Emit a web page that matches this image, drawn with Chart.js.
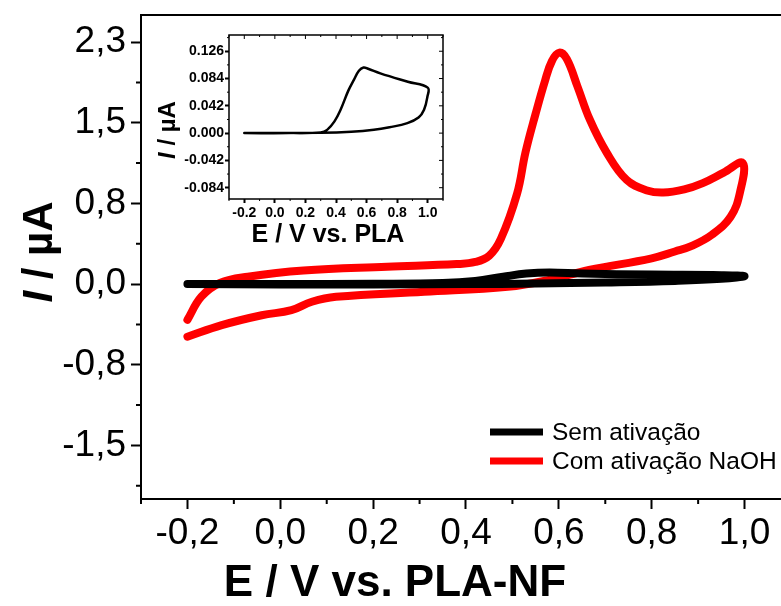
<!DOCTYPE html>
<html>
<head>
<meta charset="utf-8">
<script src="https://cdn.jsdelivr.net/npm/chart.js@4.4.1/dist/chart.umd.min.js"></script>
<style>
  html, body { margin: 0; padding: 0; background: #fff; overflow: hidden; }
  #wrap { position: relative; width: 781px; height: 606px; overflow: hidden; }
  #main { position: absolute; left: 0; top: 0; }
  #inset { position: absolute; left: 150px; top: 20px; }
</style>
</head>
<body>
<div id="wrap">
  <canvas id="main" width="800" height="606"></canvas>
  <canvas id="inset" width="310" height="240"></canvas>
</div>
<script>
// Curva com ativação NaOH (ida e volta)
const redX = [-0.20, -0.17, -0.13, -0.07, 0.05, 0.23, 0.38, 0.42, 0.45, 0.475, 0.51, 0.528, 0.55, 0.57, 0.585, 0.601, 0.617, 0.64, 0.667, 0.703, 0.746, 0.79, 0.825, 0.87, 0.91, 0.955, 0.996,
              0.99, 0.97, 0.93, 0.885, 0.85, 0.80, 0.665, 0.577, 0.49, 0.31, 0.12, 0.068, 0.024, -0.04, -0.126, -0.20];
const redY = [-0.34, -0.12, 0.01, 0.07, 0.13, 0.165, 0.19, 0.21, 0.27, 0.43, 0.86, 1.25, 1.62, 1.93, 2.12, 2.20, 2.14, 1.88, 1.56, 1.25, 0.99, 0.89, 0.87, 0.90, 0.96, 1.06, 1.15,
              0.87, 0.64, 0.47, 0.36, 0.31, 0.245, 0.134, 0.038, -0.025, -0.073, -0.121, -0.168, -0.248, -0.296, -0.39, -0.50];

// Curva sem ativação
const blackX = [-0.20, 0.00, 0.20, 0.35, 0.42, 0.48, 0.53, 0.58, 0.65, 0.80, 0.95, 1.00,
                0.95, 0.85, 0.70, 0.55, 0.40, 0.20, 0.00, -0.20];
const blackY = [0.000, 0.000, 0.003, 0.010, 0.030, 0.070, 0.100, 0.110, 0.100, 0.090, 0.085, 0.075,
                0.050, 0.030, 0.015, 0.005, 0.000, -0.004, -0.004, 0.000];

// Inset (sem ativação, escala ampliada)
const insetX = [-0.20, 0.10, 0.30, 0.342, 0.39, 0.43, 0.48, 0.517, 0.55, 0.58, 0.61, 0.69, 0.87, 1.00,
                0.998, 0.976, 0.94, 0.867, 0.75, 0.648, 0.50, 0.30, -0.20];
const insetY = [0.000, 0.000, 0.001, 0.005, 0.018, 0.036, 0.065, 0.082, 0.096, 0.101, 0.099, 0.092, 0.079, 0.070,
                0.056, 0.036, 0.024, 0.0154, 0.009, 0.005, 0.002, 0.0005, 0.000];

const seriesLabels = ["Sem ativação", "Com ativação NaOH"];

const xTickValues = [-0.2, 0.0, 0.2, 0.4, 0.6, 0.8, 1.0];
const xTickLabels = ["-0,2", "0,0", "0,2", "0,4", "0,6", "0,8", "1,0"];
const xMinorValues = [-0.3, -0.1, 0.1, 0.3, 0.5, 0.7, 0.9, 1.1];
const yTickValues = [-1.5333, -0.7667, 0, 0.7667, 1.5333, 2.3];
const yTickLabels = ["-1,5", "-0,8", "0,0", "0,8", "1,5", "2,3"];
const yMinorValues = [-1.9167, -1.15, -0.3833, 0.3833, 1.15, 1.9167];

const insetXTicks = [-0.2, 0.0, 0.2, 0.4, 0.6, 0.8, 1.0];
const insetXLabels = ["-0.2", "0.0", "0.2", "0.4", "0.6", "0.8", "1.0"];
const insetXMinor = [-0.3, -0.1, 0.1, 0.3, 0.5, 0.7, 0.9, 1.1];
const insetYTicks = [-0.084, -0.042, 0.0, 0.042, 0.084, 0.126];
const insetYLabels = ["-0.084", "-0.042", "0.000", "0.042", "0.084", "0.126"];
const insetYMinor = [-0.063, -0.021, 0.021, 0.063, 0.105, 0.147];

const FONT = "'Liberation Sans', Arial, sans-serif";

function pairs(xs, ys) {
  return xs.map((x, i) => ({ x: x, y: ys[i] }));
}

// moldura, ticks menores, títulos e legenda
function framePlugin(cfg) {
  return {
    id: "frame",
    afterDraw(chart) {
      const ctx = chart.ctx;
      const a = chart.chartArea;
      const xs = chart.scales.x, ys = chart.scales.y;
      ctx.save();
      ctx.strokeStyle = "#000";
      ctx.lineWidth = cfg.frameWidth;
      ctx.strokeRect(a.left, a.top, a.right - a.left, a.bottom - a.top);

      ctx.lineWidth = cfg.tickWidth;
      ctx.beginPath();
      cfg.xMinor.forEach(v => {
        const px = xs.getPixelForValue(v);
        ctx.moveTo(px, a.bottom); ctx.lineTo(px, a.bottom + cfg.minorLen);
        if (cfg.mirror) { ctx.moveTo(px, a.top); ctx.lineTo(px, a.top + cfg.minorLen); }
      });
      cfg.yMinor.forEach(v => {
        const py = ys.getPixelForValue(v);
        ctx.moveTo(a.left, py); ctx.lineTo(a.left - cfg.minorLen, py);
        if (cfg.mirror) { ctx.moveTo(a.right, py); ctx.lineTo(a.right - cfg.minorLen, py); }
      });
      if (cfg.mirror) {
        cfg.xMajor.forEach(v => {
          const px = xs.getPixelForValue(v);
          ctx.moveTo(px, a.top); ctx.lineTo(px, a.top + cfg.majorLen);
        });
        cfg.yMajor.forEach(v => {
          const py = ys.getPixelForValue(v);
          ctx.moveTo(a.right, py); ctx.lineTo(a.right - cfg.majorLen, py);
        });
      }
      ctx.stroke();

      // título do eixo x
      ctx.fillStyle = "#000";
      ctx.font = "bold " + cfg.xTitleSize + "px " + FONT;
      ctx.textAlign = "center";
      ctx.textBaseline = "middle";
      ctx.fillText(cfg.xTitle, cfg.xTitlePos[0], cfg.xTitlePos[1]);

      // título do eixo y: "I" itálico + " / µA"
      ctx.translate(cfg.yTitlePos[0], cfg.yTitlePos[1]);
      ctx.rotate(-Math.PI / 2);
      const f1 = "italic bold " + cfg.yTitleSize + "px " + FONT;
      const f2 = "bold " + cfg.yTitleSize + "px " + FONT;
      ctx.font = f1; const w1 = ctx.measureText("I").width;
      ctx.font = f2; const w2 = ctx.measureText(" / µA").width;
      ctx.textAlign = "left";
      ctx.font = f1; ctx.fillText("I", -(w1 + w2) / 2, 0);
      ctx.font = f2; ctx.fillText(" / µA", -(w1 + w2) / 2 + w1, 0);
      ctx.restore();

      if (cfg.legend) {
        ctx.save();
        ctx.font = cfg.legend.size + "px " + FONT;
        ctx.textBaseline = "middle";
        ctx.textAlign = "left";
        chart.data.datasets.forEach((ds, i) => {
          const y = cfg.legend.y + i * cfg.legend.gap;
          ctx.strokeStyle = ds.borderColor;
          ctx.lineWidth = 7;
          ctx.beginPath();
          ctx.moveTo(cfg.legend.x, y);
          ctx.lineTo(cfg.legend.x + 53, y);
          ctx.stroke();
          ctx.fillStyle = "#000";
          ctx.fillText(ds.label, cfg.legend.x + 62, y + 1);
        });
        ctx.restore();
      }
    }
  };
}

function axis(min, max, ticksV, labels, fit, font, tickLen, pad) {
  return {
    type: "linear",
    min: min,
    max: max,
    afterBuildTicks: s => { s.ticks = ticksV.map(v => ({ value: v })); },
    afterFit: s => {
      fit(s);
      s.paddingTop = 0; s.paddingBottom = 0; s.paddingLeft = 0; s.paddingRight = 0;
    },
    border: { display: false },
    grid: { drawOnChartArea: false, drawTicks: true, tickLength: tickLen, tickWidth: 2, tickColor: "#000" },
    ticks: {
      color: "#000",
      font: font,
      padding: pad,
      maxRotation: 0,
      autoSkip: false,
      callback: (v, i) => labels[i]
    }
  };
}

new Chart(document.getElementById("main"), {
  type: "scatter",
  data: {
    datasets: [
      { label: seriesLabels[0], data: pairs(blackX, blackY), borderColor: "#000000", borderWidth: 8 },
      { label: seriesLabels[1], data: pairs(redX, redY), borderColor: "#ff0000", borderWidth: 8 }
    ]
  },
  options: {
    responsive: false,
    animation: false,
    showLine: true,
    layout: { padding: { top: 15, right: 9, left: 0, bottom: 0 } },
    elements: {
      point: { radius: 0 },
      line: { tension: 0.4, borderCapStyle: "round", borderJoinStyle: "round" }
    },
    plugins: { legend: { display: false }, tooltip: { enabled: false } },
    scales: {
      x: axis(-0.3, 1.1, xTickValues, xTickLabels, s => { s.height = 107; }, { family: FONT, size: 37 }, 10, 3),
      y: axis(-2.043, 2.558, yTickValues, yTickLabels, s => { s.width = 141; }, { family: FONT, size: 37 }, 10, 5)
    }
  },
  plugins: [framePlugin({
    frameWidth: 2, tickWidth: 2, minorLen: 5, majorLen: 10, mirror: false,
    xMinor: xMinorValues, yMinor: yMinorValues, xMajor: xTickValues, yMajor: yTickValues,
    xTitle: "E / V vs. PLA-NF", xTitleSize: 44, xTitlePos: [395, 584],
    yTitleSize: 42, yTitlePos: [40, 252],
    legend: { x: 490, y: 432, gap: 29, size: 24.5 }
  })]
});

new Chart(document.getElementById("inset"), {
  type: "scatter",
  data: {
    datasets: [
      { label: seriesLabels[0], data: pairs(insetX, insetY), borderColor: "#000000", borderWidth: 2.5 }
    ]
  },
  options: {
    responsive: false,
    animation: false,
    showLine: true,
    layout: { padding: { top: 15, right: 17, left: 0, bottom: 0 } },
    elements: {
      point: { radius: 0 },
      line: { tension: 0.4, borderCapStyle: "round" }
    },
    plugins: { legend: { display: false }, tooltip: { enabled: false } },
    scales: {
      x: axis(-0.3, 1.1, insetXTicks, insetXLabels, s => { s.height = 61; }, { family: FONT, size: 14, weight: "bold" }, 4, 2),
      y: axis(-0.1014, 0.151, insetYTicks, insetYLabels, s => { s.width = 79; }, { family: FONT, size: 14, weight: "bold" }, 4, 1)
    }
  },
  plugins: [framePlugin({
    frameWidth: 1.5, tickWidth: 1, minorLen: 2, majorLen: 4, mirror: true,
    xMinor: insetXMinor, yMinor: insetYMinor, xMajor: insetXTicks, yMajor: insetYTicks,
    xTitle: "E / V vs. PLA", xTitleSize: 25, xTitlePos: [178, 215],
    yTitleSize: 24, yTitlePos: [18, 110],
    legend: null
  })]
});
</script>
</body>
</html>
